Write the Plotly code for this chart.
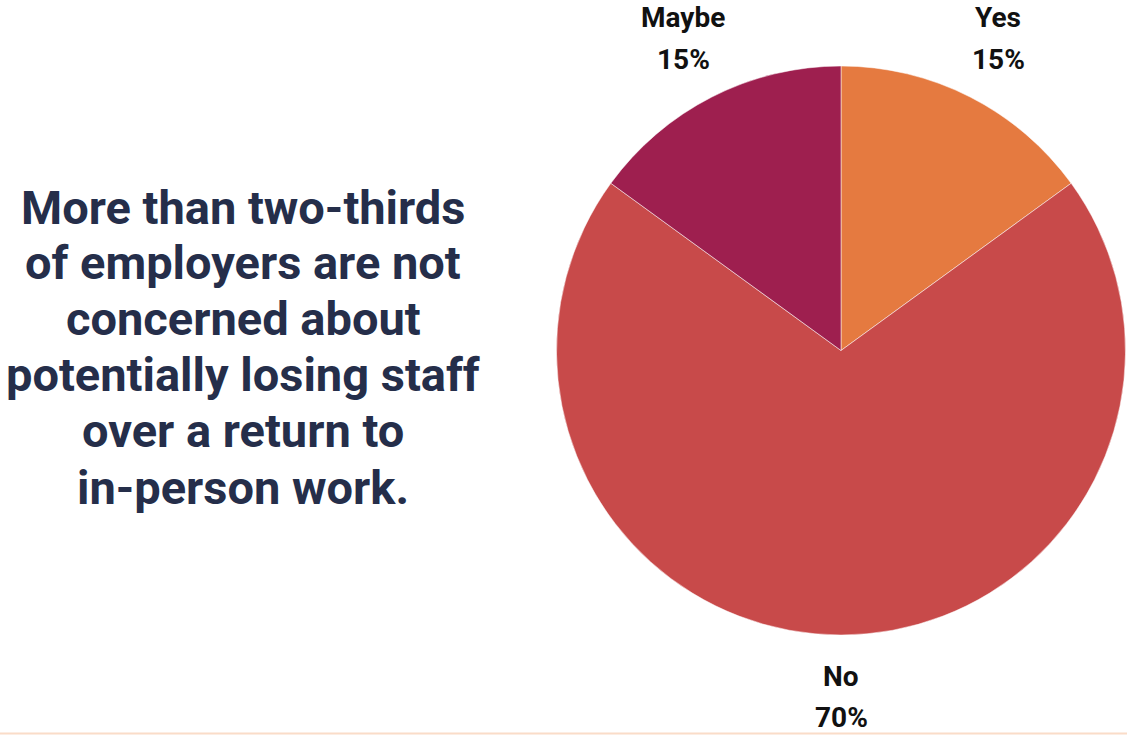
import plotly.graph_objects as go

labels = ["Yes", "No", "Maybe"]
values = [15, 70, 15]
colors = ["#E57A40", "#C84A4A", "#9E1F4F"]
heading_lines = [
    "More than two-thirds",
    "of employers are not",
    "concerned about",
    "potentially losing staff",
    "over a return to",
    "in-person work.",
]

W, H = 1127, 735

fig = go.Figure(go.Pie(
    labels=labels,
    values=values,
    marker=dict(colors=colors, line=dict(color="white", width=0.5)),
    sort=False,
    direction="clockwise",
    rotation=0,
    textinfo="none",
    hoverinfo="label+percent",
    domain=dict(x=[556 / W, 1126 / W], y=[(H - 635) / H, (H - 66) / H]),
    showlegend=False,
))

# label positions (pixels from top-left) for each slice
label_pos = {"Yes": (998, 18, 59), "No": (841, 676, 717), "Maybe": (683, 18, 59)}
total = sum(values)
annotations = []
for lab, val in zip(labels, values):
    x, y1, y2 = label_pos[lab]
    pct = f"{round(100 * val / total)}%"
    for txt, yy in ((lab, y1), (pct, y2)):
        annotations.append(dict(
            text=f"<b>{txt}</b>", x=x / W, y=1 - yy / H, xref="paper", yref="paper",
            showarrow=False, xanchor="center", yanchor="middle",
            font=dict(family="Roboto", size=28, color="#111111"),
        ))

line_y = [207, 262, 318, 374, 430, 487]
for txt, yy in zip(heading_lines, line_y):
    annotations.append(dict(
        text=f"<b>{txt}</b>", x=243 / W, y=1 - yy / H, xref="paper", yref="paper",
        showarrow=False, xanchor="center", yanchor="middle",
        font=dict(family="Roboto", size=47, color="#252E4A"),
    ))

fig.update_layout(
    width=W, height=H,
    margin=dict(l=0, r=0, t=0, b=0),
    paper_bgcolor="white",
    plot_bgcolor="white",
    annotations=annotations,
    shapes=[dict(type="line", xref="paper", yref="paper", x0=0, x1=1,
                 y0=1.5 / H, y1=1.5 / H, line=dict(color="#FADCC8", width=2))],
)

fig.write_html(
    "out.html",
    config={"displayModeBar": False},
    post_script="document.body.style.margin='0';document.body.style.overflow='hidden';",
)
